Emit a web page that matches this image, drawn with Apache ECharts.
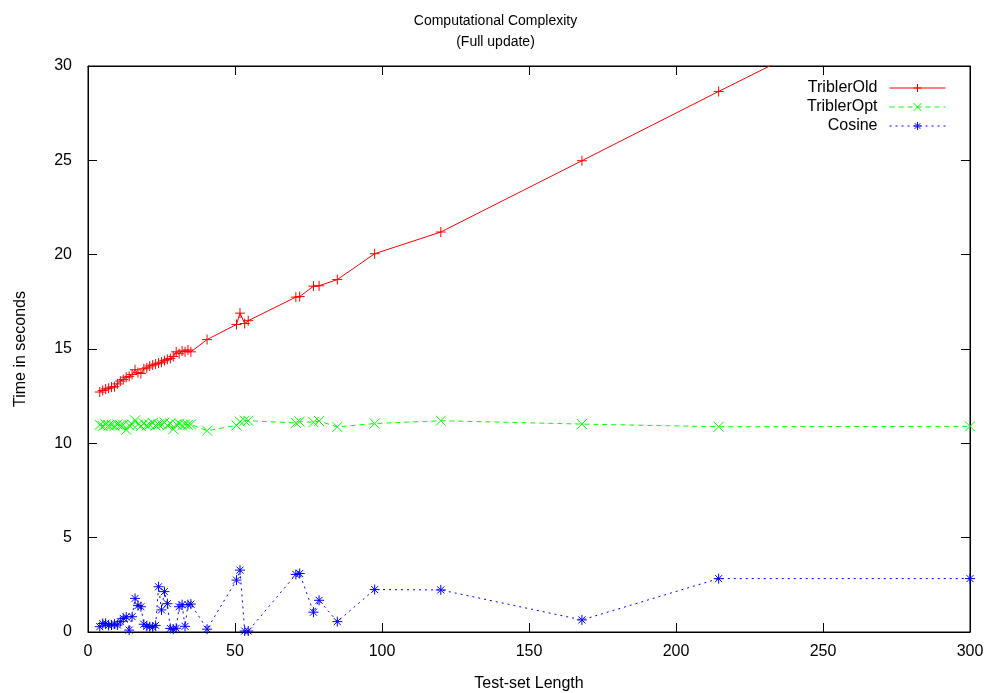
<!DOCTYPE html>
<html>
<head>
<meta charset="utf-8">
<script src="https://cdn.jsdelivr.net/npm/echarts@6/dist/echarts.min.js"></script>
<style>
  html, body { margin: 0; padding: 0; background: #fff; }
  #main { width: 991px; height: 693px; }
</style>
</head>
<body>
<div id="main"></div>
<script>
// test-set lengths (x)
var lengths = [4, 5, 6, 7, 8, 9, 10, 11, 12, 13, 14, 15, 16, 17, 18, 19, 20, 21, 22, 23, 24, 25,
    26, 27, 28, 29, 30, 31, 32, 33, 34, 35, 40.5, 50.5, 51.7, 53.3, 54.5, 70.7, 72, 76.7, 78.6,
    84.8, 97.5, 120, 168, 214.5, 300];

var triblerOld = [12.72, 12.8, 12.88, 12.92, 12.98, 13.0, 13.15, 13.3, 13.38, 13.5, 13.55, 13.65,
    13.9, 13.75, 13.7, 13.95, 14.0, 14.1, 14.15, 14.2, 14.25, 14.3, 14.38, 14.45, 14.5, 14.6,
    14.85, 14.75, 14.9, 14.85, 14.95, 14.85, 15.5, 16.3, 16.9, 16.35, 16.5, 17.75, 17.78, 18.33,
    18.35, 18.68, 20.05, 21.2, 24.98, 28.65, 35.3];

var triblerOpt = [10.98, 10.92, 11.0, 10.95, 10.98, 10.92, 11.0, 10.95, 10.98, 10.72, 10.95, 11.0,
    11.22, 11.0, 10.92, 11.05, 10.95, 11.0, 11.08, 10.95, 11.0, 11.02, 11.1, 10.95, 11.05, 10.75,
    11.0, 11.05, 10.95, 11.0, 10.98, 11.0, 10.67, 10.95, 11.15, 11.2, 11.2, 11.08, 11.15, 11.12,
    11.18, 10.87, 11.05, 11.2, 11.02, 10.88, 10.9];

var cosine = [0.28, 0.45, 0.46, 0.35, 0.37, 0.42, 0.37, 0.55, 0.72, 0.8, 0.1, 0.81, 1.78, 1.4,
    1.34, 0.41, 0.3, 0.28, 0.25, 0.35, 2.4, 1.17, 2.14, 1.5, 0.19, 0.15, 0.2, 1.34, 1.45, 0.3,
    1.45, 1.48, 0.15, 2.75, 3.28, 0.05, 0.05, 3.05, 3.1, 1.05, 1.68, 0.55, 2.25, 2.23, 0.64,
    2.83, 2.83];

var xTicks = [0, 50, 100, 150, 200, 250, 300];
var yTicks = [0, 5, 10, 15, 20, 25, 30];

var FONT = '"Liberation Sans", Arial, sans-serif';

function pairs(ys) {
    var out = [];
    for (var i = 0; i < lengths.length; i++) {
        out.push([lengths[i], ys[i]]);
    }
    return out;
}

var plusSym = 'path://M5,0L5,10M0,5L10,5';
var crossSym = 'path://M0,0L10,10M0,10L10,0';
var starSym = 'path://M5,0L5,10M0,5L10,5M1.5,1.5L8.5,8.5M1.5,8.5L8.5,1.5';

function makeSeries(name, ys, color, sym, dash) {
    return {
        name: name,
        type: 'line',
        data: pairs(ys),
        symbol: sym,
        symbolSize: 10,
        clip: true,
        animation: false,
        lineStyle: { color: color, width: 1, type: dash },
        itemStyle: { color: color, borderColor: color, borderWidth: 1 },
        emphasis: { disabled: true }
    };
}

function tickAxis(extra) {
    var base = {
        type: 'value',
        axisLine: { show: true, onZero: false, lineStyle: { color: '#000', width: 1 } },
        axisTick: { show: true, inside: true, length: 9, lineStyle: { color: '#000', width: 1 } },
        splitLine: { show: false }
    };
    for (var k in extra) base[k] = extra[k];
    return base;
}

var myChart = echarts.init(document.getElementById('main'));

var option = {
    backgroundColor: '#fff',
    animation: false,
    title: {
        text: 'Computational Complexity\n(Full update)',
        left: 'center',
        top: 6,
        textStyle: { fontFamily: FONT, fontSize: 14, fontWeight: 'normal', color: '#000', lineHeight: 21 }
    },
    legend: {
        orient: 'vertical',
        right: 40,
        top: 75,
        align: 'right',
        itemWidth: 56,
        itemHeight: 10,
        itemGap: 3,
        lineStyle: { width: 1 },
        itemStyle: { borderWidth: 1 },
        textStyle: { fontFamily: FONT, fontSize: 16, color: '#000', padding: [0, 7, 0, 0] },
        data: ['TriblerOld', 'TriblerOpt', 'Cosine']
    },
    grid: {
        left: 88,
        right: 21,
        top: 66,
        bottom: 61,
        outerBoundsMode: 'none',
        show: true,
        borderColor: '#000',
        borderWidth: 1
    },
    xAxis: [tickAxis({
        min: 0,
        max: 300,
        interval: 50,
        position: 'bottom',
        name: 'Test-set Length',
        nameLocation: 'middle',
        nameGap: 44,
        nameTextStyle: { fontFamily: FONT, fontSize: 16, color: '#000' },
        axisLabel: {
            fontFamily: FONT, fontSize: 16, color: '#000', margin: 12,
            formatter: function (v) { return xTicks.indexOf(v) >= 0 ? String(v) : ''; }
        }
    }), tickAxis({
        min: 0,
        max: 300,
        interval: 50,
        position: 'top',
        axisLabel: { show: false }
    })],
    yAxis: [tickAxis({
        min: 0,
        max: 30,
        interval: 5,
        position: 'left',
        name: 'Time in seconds',
        nameLocation: 'middle',
        nameGap: 59,
        nameTextStyle: { fontFamily: FONT, fontSize: 16, color: '#000' },
        axisLabel: {
            fontFamily: FONT, fontSize: 16, color: '#000', margin: 16,
            formatter: function (v) { return yTicks.indexOf(v) >= 0 ? String(v) : ''; }
        }
    }), tickAxis({
        min: 0,
        max: 30,
        interval: 5,
        position: 'right',
        axisLabel: { show: false }
    })],
    series: [
        makeSeries('TriblerOld', triblerOld, '#ff0000', plusSym, 'solid'),
        makeSeries('TriblerOpt', triblerOpt, '#00ff00', crossSym, [5, 4]),
        makeSeries('Cosine', cosine, '#0000ff', starSym, [2, 4])
    ]
};

myChart.setOption(option);
window.onresize = function () {
    myChart.resize();
};
</script>
</body>
</html>
